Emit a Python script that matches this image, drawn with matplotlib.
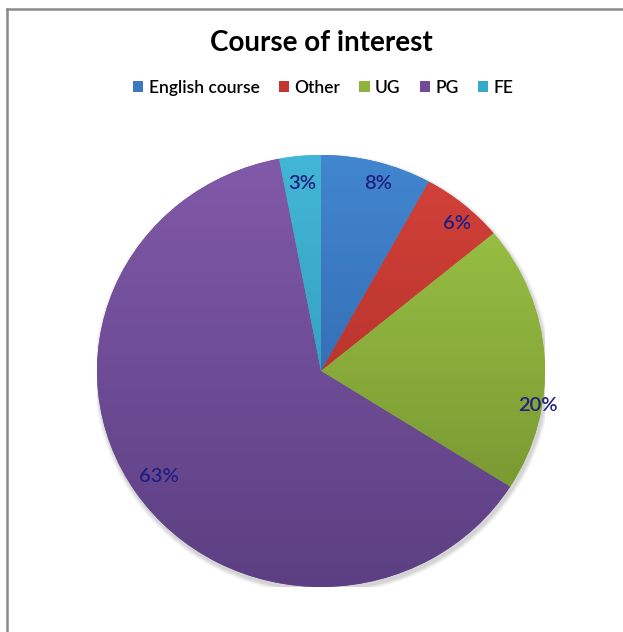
import numpy as np
import matplotlib.pyplot as plt
from matplotlib.colors import LinearSegmentedColormap
from matplotlib.patches import Patch, Ellipse
from matplotlib.lines import Line2D

# data
categories = ['English course', 'Other', 'UG', 'PG', 'FE']
shares = [8, 6, 20, 63, 3]
base_colors = ['#3A78C0', '#C4362F', '#8DB23D', '#704C98', '#35AACB']
top_colors = ['#4286D0', '#D4423A', '#A0C848', '#8159A9', '#42B6D6']
bottom_colors = ['#285A9E', '#A02822', '#6F8C2C', '#5C3F82', '#2A8FB0']

# label placement (radius as fraction of pie, extra clockwise shift in degrees)
label_r = [0.905, 0.915, 0.98, 0.873, 0.874]
label_shift = [2, 2, 13, 0, 0]

plt.rcParams['font.family'] = ['Lato', 'DejaVu Sans']

W, H = 623, 632
fig = plt.figure(figsize=(W / 100, H / 100), dpi=100)

# pie area in pixels (slightly wider than tall, as in the original)
left, top, right, bottom = 97, 155, 545, 587
ax = fig.add_axes([left / W, 1 - bottom / H, (right - left) / W, (bottom - top) / H])

# soft shadow
for k, a in enumerate([0.05, 0.06, 0.07, 0.09]):
    grow = 0.02 - k * 0.005
    sh = Ellipse((0.006, -0.014), 2 + 2 * grow, 2 + 2 * grow, facecolor='#555555',
                 edgecolor='none', alpha=a, zorder=0)
    ax.add_patch(sh)

wedges, _ = ax.pie(shares, colors=base_colors, startangle=90, counterclock=False,
                   wedgeprops=dict(linewidth=0))

# vertical gradient inside each slice
grad = np.linspace(1, 0, 256).reshape(-1, 1)
for w, c_top, c_bot in zip(wedges, top_colors, bottom_colors):
    cmap = LinearSegmentedColormap.from_list('g', [c_bot, c_top])
    im = ax.imshow(grad, extent=(-1, 1, -1, 1), aspect='auto', cmap=cmap,
                   origin='upper', zorder=w.get_zorder() + 0.1)
    im.set_clip_path(w)

# data labels
for w, val, r, shift in zip(wedges, shares, label_r, label_shift):
    mid = np.deg2rad((w.theta1 + w.theta2) / 2 - shift)
    ax.text(r * np.cos(mid), r * np.sin(mid), f'{val}%', ha='center', va='center',
            fontsize=14.5, fontweight='semibold', color='#1F1F80', zorder=10)

ax.set_aspect('auto')
ax.set_xlim(-1, 1)
ax.set_ylim(-1, 1)
ax.axis('off')

# title and legend
fig.text(321 / W, 1 - 43 / H, 'Course of interest', ha='center', va='center',
         fontsize=20, fontweight='bold', color='black')

handles = [Patch(facecolor=c, edgecolor='none') for c in base_colors]
fig.legend(handles, categories, loc='center', bbox_to_anchor=(323 / W, 1 - 88 / H),
           ncol=5, frameon=False, fontsize=12.5, handlelength=0.6, handleheight=0.6,
           handletextpad=0.3, columnspacing=1.1, prop=dict(size=12.5, weight='semibold'))

# chart border (left and top only visible)
fig.add_artist(Line2D([7 / W, 7 / W], [0, 1 - 9 / H], color='#8a8a8a', lw=1.8))
fig.add_artist(Line2D([7 / W, 1], [1 - 9 / H, 1 - 9 / H], color='#8a8a8a', lw=1.8))

fig.savefig('out.png', dpi=100, facecolor='white')
